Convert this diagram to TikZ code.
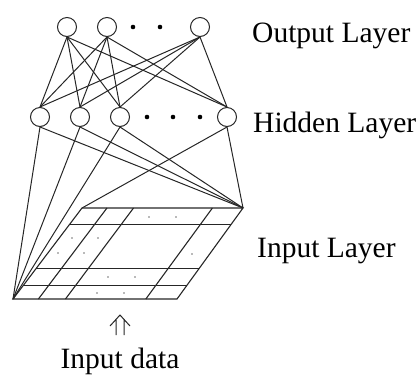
\documentclass[tikz,border=0pt]{standalone}
\usepackage{fontspec}
\setmainfont{Liberation Serif}
\usetikzlibrary{calc}
\begin{document}
\begin{tikzpicture}[x=1pt,y=-1pt,
  neuron/.style={circle,draw=black!85,fill=white,line width=1pt,minimum size=19pt,inner sep=0pt},
  link/.style={line width=1pt,draw=black!85},
  gridline/.style={line width=1.1pt,draw=black!85},
  layerlabel/.style={font=\fontsize{29.5}{30}\selectfont,anchor=base west,inner sep=0pt},
  bigdot/.style={fill=black},
  celldot/.style={fill=black!55}]
\useasboundingbox (0,0) rectangle (420,376);

% output layer
\node[neuron] (o1) at (67,27) {};
\node[neuron] (o2) at (107,27) {};
\node[neuron] (o3) at (200,27) {};
\foreach \x in {133,160} \fill[bigdot] (\x,27) circle (2.3);

% hidden layer
\node[neuron] (h1) at (40,117) {};
\node[neuron] (h2) at (80,117) {};
\node[neuron] (h3) at (120,117) {};
\node[neuron] (h4) at (227,117) {};
\foreach \x in {147,173,200} \fill[bigdot] (\x,117) circle (2.3);

% input grid corners
\coordinate (tl) at (82,208);
\coordinate (tr) at (243,208);
\coordinate (bl) at (13,299);
\coordinate (br) at (177,299);

% full connections output -> hidden
\foreach \o in {o1,o2,o3}
  \foreach \h in {h1,h2,h3,h4}
    \draw[link] (\o.south) -- (\h.north);

% hidden -> input grid
\foreach \h in {h1,h2,h3} {
  \draw[link] (\h.south) -- (bl);
  \draw[link] (\h.south) -- (tr);
}
\draw[link] (h4.south) -- (tl);
\draw[link] (h4.south) -- (tr);

% input grid
\draw[gridline] (tl) -- (tr) -- (br) -- (bl) -- cycle;
\foreach \v in {0.18,0.66,0.85}
  \draw[gridline] ($(tl)!\v!(bl)$) -- ($(tr)!\v!(br)$);
\foreach \u in {0.155,0.32,0.81}
  \draw[gridline] ($(tl)!\u!(tr)$) -- ($(bl)!\u!(br)$);
\foreach \p in {(149,217),(176,217),(72,238),(98,238),(58,253),(84,253),(192,254),(108,277),(135,277),(97,293),(124,293)}
  \fill[celldot] \p circle (0.9);

% input arrow
\draw[line width=1pt,draw=black!85] (116,335) -- (116,320) (124,335) -- (124,320)
  (110,326) -- (120,315) -- (130,326);

% labels
\node[layerlabel] (lo) at (252,42) {Output Layer};
\node[layerlabel] (lh) at (253,132) {Hidden Layer};
\node[layerlabel] (li) at (257,257) {Input Layer};
\node[layerlabel,anchor=base] (ld) at (120,368) {Input data};
\end{tikzpicture}
\end{document}
